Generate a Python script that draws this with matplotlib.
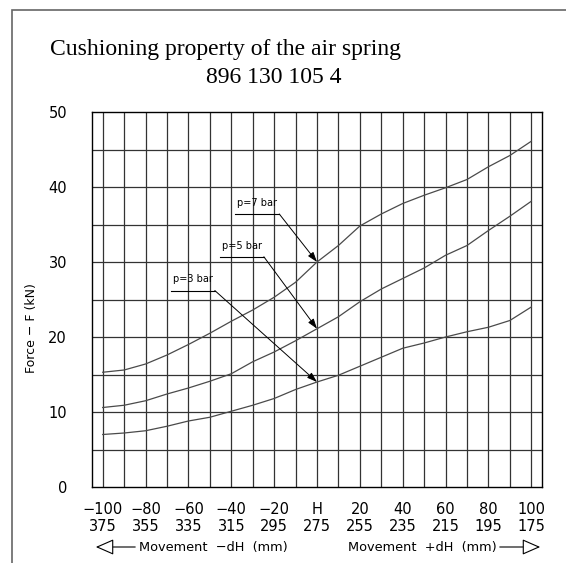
import matplotlib
matplotlib.use('Agg')
import matplotlib.pyplot as plt
from matplotlib.patches import Rectangle, FancyArrowPatch

# Datos
movement = [-100, -90, -80, -70, -60, -50, -40, -30, -20, -10, 0,
            10, 20, 30, 40, 50, 60, 70, 80, 90, 100]
force_7bar = [15.3, 15.6, 16.4, 17.6, 19.0, 20.5, 22.1, 23.6, 25.3, 27.3, 30.0,
              32.2, 34.8, 36.4, 37.8, 38.9, 39.9, 41.0, 42.7, 44.2, 46.1]
force_5bar = [10.6, 10.9, 11.5, 12.4, 13.2, 14.1, 15.1, 16.7, 18.0, 19.5, 21.1,
              22.7, 24.7, 26.4, 27.8, 29.2, 30.9, 32.2, 34.2, 36.1, 38.1]
force_3bar = [7.0, 7.2, 7.5, 8.1, 8.8, 9.3, 10.1, 10.9, 11.8, 13.0, 14.0,
              14.9, 16.1, 17.3, 18.5, 19.2, 20.0, 20.7, 21.3, 22.2, 24.0]

tick_pos = [-100, -80, -60, -40, -20, 0, 20, 40, 60, 80, 100]
tick_top = ['\u2212100', '\u221280', '\u221260', '\u221240', '\u221220', 'H',
            '20', '40', '60', '80', '100']
tick_bottom = ['375', '355', '335', '315', '295', '275', '255', '235', '215', '195', '175']

labels = ['p=7 bar', 'p=5 bar', 'p=3 bar']
# (inicio subrayado, fin subrayado, altura), punta de flecha en H
label_lines = [(-38.4, -17.6, 36.4), (-45.4, -24.8, 30.7), (-68.0, -47.7, 26.2)]
arrow_tips = [30.0, 21.1, 14.0]

color_grid = '#333333'
color_curve = '#4a4a4a'

fig = plt.figure(figsize=(5.66, 5.63), dpi=100)
fig.patch.set_facecolor('white')

# Marco exterior
fig.patches.append(Rectangle((11.5 / 566, -0.1), 1.2, 1 - 9.5 / 563 + 0.1,
                             transform=fig.transFigure, fill=False,
                             edgecolor='#666666', linewidth=1.2))

ax = fig.add_axes([92 / 566, 1 - 487 / 563, 450 / 566, 375 / 563])
ax.set_xlim(-105, 105)
ax.set_ylim(0, 50)

# Rejilla
for x in range(-100, 101, 10):
    ax.axvline(x, color=color_grid, linewidth=0.9, zorder=1)
for y in range(5, 50, 5):
    ax.axhline(y, color=color_grid, linewidth=0.9, zorder=1)

for s in ax.spines.values():
    s.set_color('black')
    s.set_linewidth(1.0)

# Curvas
for f in (force_7bar, force_5bar, force_3bar):
    ax.plot(movement, f, color=color_curve, linewidth=0.9, zorder=3)

# Etiquetas con flecha
for lab, (x0, x1, yl), tip in zip(labels, label_lines, arrow_tips):
    ax.plot([x0, x1], [yl, yl], color='black', linewidth=0.8, zorder=4)
    ax.text(x0 + 1, yl + 0.8, lab, fontsize=7, family='DejaVu Sans',
            ha='left', va='bottom', zorder=4)
    ax.annotate('', xy=(0, tip), xytext=(x1, yl),
                arrowprops=dict(arrowstyle='-|>,head_length=0.6,head_width=0.2',
                                color='black', lw=0.7,
                                mutation_scale=10, shrinkA=0, shrinkB=0),
                zorder=4)

# Ejes
ax.set_xticks(tick_pos)
ax.set_xticklabels([a + '\n' + b for a, b in zip(tick_top, tick_bottom)],
                   fontsize=10.5, linespacing=1.15)
ax.set_yticks(range(0, 51, 10))
ax.set_yticklabels([str(v) for v in range(0, 51, 10)], fontsize=10.5)
ax.tick_params(axis='x', length=0, pad=11)
ax.tick_params(axis='y', length=0, pad=18)

fig.text(31 / 566, 1 - 328 / 563, 'Force \u2212 F (kN)', rotation=90,
         fontsize=9, ha='center', va='center')

# Título
fig.text(225 / 566, 1 - 55 / 563, 'Cushioning property of the air spring',
         family='Liberation Serif', fontsize=17, ha='center', va='baseline')
fig.text(274 / 566, 1 - 83 / 563, '896 130 105 4',
         family='Liberation Serif', fontsize=17, ha='center', va='baseline')

# Movimiento
yrow = 1 - 547 / 563
fig.text(139 / 566, yrow, 'Movement  \u2212dH  (mm)', fontsize=9.3,
         ha='left', va='center')
fig.text(348 / 566, yrow, 'Movement  +dH  (mm)', fontsize=9.3,
         ha='left', va='center')
fig.add_artist(FancyArrowPatch(
    (138 / 566, yrow), (93 / 566, yrow), transform=fig.transFigure,
    arrowstyle='-|>,head_length=0.8,head_width=0.35', mutation_scale=14,
    facecolor='white', edgecolor='black', linewidth=0.8))
fig.add_artist(FancyArrowPatch(
    (497 / 566, yrow), (543 / 566, yrow), transform=fig.transFigure,
    arrowstyle='-|>,head_length=0.8,head_width=0.35', mutation_scale=14,
    facecolor='white', edgecolor='black', linewidth=0.8))

fig.savefig('out.png', dpi=100)
